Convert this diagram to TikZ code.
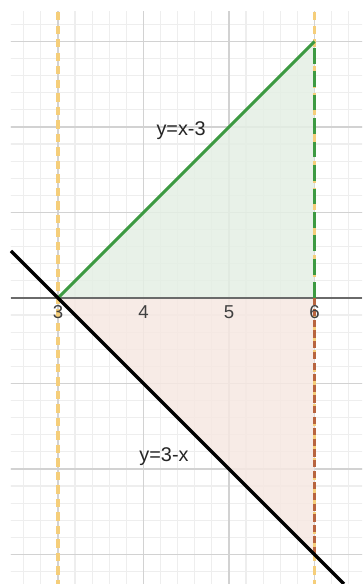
\documentclass[tikz,border=0pt]{standalone}
\usepackage{fontspec}
\setmainfont{Liberation Sans}
\definecolor{gminor}{HTML}{EEEEEE}
\definecolor{gmajor}{HTML}{D2D2D2}
\definecolor{axisc}{HTML}{6A6A6A}
\definecolor{lgreen}{HTML}{3D9A42}
\definecolor{lbrown}{HTML}{B8643F}
\definecolor{fgreen}{HTML}{E4EFE4}
\definecolor{fbrown}{HTML}{F6E8E2}
\definecolor{lyellow}{HTML}{F5CE7A}
\tikzset{
  minorgrid/.style={draw=gminor, line width=0.4pt},
  majorgrid/.style={draw=gmajor, line width=0.5pt},
  axisline/.style={draw=axisc, line width=0.55pt},
  yellowdash/.style={draw=lyellow, line width=1.1pt, dash pattern=on 2.8pt off 1.7pt},
  greenline/.style={draw=lgreen, line width=1pt},
  greendash/.style={draw=lgreen, line width=1pt, dash pattern=on 5.2pt off 2.6pt},
  browndash/.style={draw=lbrown, line width=1pt, dash pattern=on 2.4pt off 1.2pt},
  blackline/.style={draw=black, line width=1.1pt},
  ticklabel/.style={font=\fontsize{6.2pt}{7pt}\selectfont, text=black!75, inner sep=0pt},
  eqlabel/.style={font=\fontsize{6.6pt}{8pt}\selectfont, text=black!85, inner sep=0pt}
}
\begin{document}
\begin{tikzpicture}[x=1cm,y=1cm]
\useasboundingbox[fill=white] (2.322,-3.345) rectangle (6.556,3.485);
\begin{scope}
\clip (2.45,-3.345) rectangle (6.556,3.345);
\draw[minorgrid, step=0.2] (2.4,-3.4) grid (6.6,3.4);
\draw[majorgrid, step=1] (2,-4) grid (7,4);
\end{scope}
% shaded regions
\coordinate (A) at (3,0);
\coordinate (B) at (6,3);
\coordinate (C) at (6,0);
\coordinate (D) at (6,-3);
\fill[fgreen, opacity=0.85] (A) -- (B) -- (C) -- cycle;
\fill[fbrown, opacity=0.85] (A) -- (C) -- (D) -- cycle;
% x axis
\coordinate (axL) at (2.45,0);
\coordinate (axR) at (6.556,0);
\draw[axisline] (axL) -- (axR);
% yellow dashed verticals
\coordinate (y3t) at (3,3.345);
\coordinate (y3b) at (3,-3.345);
\coordinate (y6t) at (6,3.345);
\coordinate (y6b) at (6,-3.345);
\draw[yellowdash] (y3t) -- (y3b);
\draw[yellowdash] (y6t) -- (y6b);
% boundary lines
\draw[greenline] (A) -- (B);
\draw[greendash] (C) -- (B);
\draw[browndash] (C) -- (D);
\coordinate (bL) at (2.45,0.55);
\coordinate (bR) at (6.345,-3.345);
\draw[blackline] (bL) -- (bR);
% tick labels
\node[ticklabel] (t3) at (3,-0.17) {3};
\node[ticklabel] (t4) at (4,-0.17) {4};
\node[ticklabel] (t5) at (5,-0.17) {5};
\node[ticklabel] (t6) at (6,-0.17) {6};
% equation labels
\node[eqlabel] (e1) at (4.44,1.96) {y=x-3};
\node[eqlabel] (e2) at (4.24,-1.86) {y=3-x};
\end{tikzpicture}
\end{document}
